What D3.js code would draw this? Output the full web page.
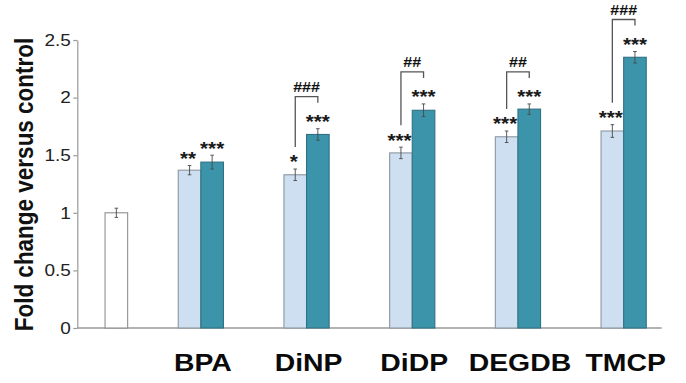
<!DOCTYPE html>
<html>
<head>
<meta charset="utf-8">
<script src="https://cdn.jsdelivr.net/npm/d3@7"></script>
<style>
  html, body { margin: 0; padding: 0; background: #fff; }
  svg { display: block; }
  text { font-family: "Liberation Sans", Arial, sans-serif; }
</style>
</head>
<body>
<svg id="chart" width="686" height="383"></svg>
<script>
// ---- data ----
const compounds = ["BPA", "DiNP", "DiDP", "DEGDB", "TMCP"];
const controlValue = 1.0;
const controlErr = 0.04;
const series1Values = [1.37, 1.33, 1.52, 1.66, 1.71];
const series1Err = [0.04, 0.05, 0.05, 0.05, 0.055];
const series2Values = [1.44, 1.68, 1.89, 1.90, 2.35];
const series2Err = [0.06, 0.05, 0.055, 0.045, 0.05];
const series1Stars = ["**", "*", "***", "***", "***"];
const series2Stars = ["***", "***", "***", "***", "***"];
const pairMarks = ["", "###", "##", "##", "###"];
const yTicks = [0, 0.5, 1, 1.5, 2, 2.5];
const yTitle = "Fold change versus control";

// ---- layout ----
const stretch = 1.15;        // horizontal widening of all text
const barW = 22.6;
const axisX = 77.3;
const controlGap = 84.5;     // control bar sits this far left of the first group

const svg = d3.select("#chart");

const y = d3.scaleLinear().domain([0, 2.5]).range([328, 40]);
const x = d3.scaleBand().domain(compounds).range([148, 676.5]).padding(0);
const sub = d3.scaleBand().domain([0, 1]).range([-barW, barW]).padding(0);
const cx = c => x(c) + x.bandwidth() / 2;
const controlX = cx(compounds[0]) - controlGap;

// rows for the grouped bars
const rows = compounds.map((c, i) => ({
  c,
  bars: [
    { s: 0, v: series1Values[i], e: series1Err[i], stars: series1Stars[i] },
    { s: 1, v: series2Values[i], e: series2Err[i], stars: series2Stars[i] }
  ],
  mark: pairMarks[i]
}));

// ---- y axis ----
const yAxis = d3.axisLeft(y)
  .tickValues(yTicks)
  .tickFormat(d => String(d))
  .tickSize(4)
  .tickSizeOuter(0)
  .tickPadding(1.7);

const gy = svg.append("g").attr("transform", `translate(${axisX},0)`).call(yAxis);
gy.select(".domain").attr("stroke", "#9a9a9a").attr("stroke-width", 1.2);
gy.selectAll(".tick line").attr("stroke", "#9a9a9a").attr("stroke-width", 1.2);
gy.selectAll(".tick text")
  .attr("fill", "#222")
  .style("font-size", "16.5px")
  .style("font-family", "'Liberation Sans', Arial, sans-serif")
  .attr("transform", `scale(${stretch},1)`);

// baseline
svg.append("line")
  .attr("x1", axisX).attr("x2", cx(compounds[compounds.length - 1]) + 38)
  .attr("y1", y(0)).attr("y2", y(0))
  .attr("stroke", "#9a9a9a").attr("stroke-width", 1.4);

// y title
svg.append("text")
  .attr("transform", `translate(24,184.5) scale(${stretch},1) rotate(-90)`)
  .attr("text-anchor", "middle")
  .attr("dy", "0.35em")
  .style("font-size", "22.5px")
  .style("font-weight", "bold")
  .attr("fill", "#111")
  .text(yTitle);

// ---- bars ----
const fills = ["#cddff1", "#3b94aa"];
const strokes = ["#8d979f", "#2f7284"];

// control bar
svg.append("rect")
  .attr("x", controlX - barW / 2)
  .attr("y", y(controlValue))
  .attr("width", barW)
  .attr("height", y(0) - y(controlValue))
  .attr("fill", "#fff")
  .attr("stroke", "#8f8f8f")
  .attr("stroke-width", 1.1);

const groups = svg.append("g").selectAll("g.grp")
  .data(rows).join("g")
  .attr("class", "grp")
  .attr("transform", d => `translate(${cx(d.c)},0)`);

groups.selectAll("rect")
  .data(d => d.bars).join("rect")
  .attr("x", b => sub(b.s))
  .attr("y", b => y(b.v))
  .attr("width", sub.bandwidth())
  .attr("height", b => y(0) - y(b.v))
  .attr("fill", b => fills[b.s])
  .attr("stroke", b => strokes[b.s])
  .attr("stroke-width", 1.1);

// ---- error bars ----
function errorBar(sel, xc, v, e) {
  const g = sel.append("g").attr("stroke", "#4a4a4a").attr("stroke-width", 0.9);
  g.append("line").attr("x1", xc).attr("x2", xc).attr("y1", y(v - e)).attr("y2", y(v + e));
  g.append("line").attr("x1", xc - 1.8).attr("x2", xc + 1.8).attr("y1", y(v + e)).attr("y2", y(v + e));
  g.append("line").attr("x1", xc - 1.8).attr("x2", xc + 1.8).attr("y1", y(v - e)).attr("y2", y(v - e));
}
errorBar(svg, controlX, controlValue, controlErr);
groups.each(function (d) {
  const g = d3.select(this);
  d.bars.forEach(b => errorBar(g, sub(b.s) + sub.bandwidth() / 2, b.v, b.e));
});

// ---- significance stars ----
const starSize = 18;
groups.each(function (d) {
  const g = d3.select(this);
  d.bars.forEach(b => {
    if (!b.stars) return;
    const xc = sub(b.s) + sub.bandwidth() / 2 - (b.s === 0 ? 1.5 : 0);
    const yc = y(b.v + b.e) - 11;
    g.append("text")
      .attr("transform", `translate(${xc},${yc + starSize * 0.58}) scale(${stretch},1)`)
      .attr("text-anchor", "middle")
      .style("font-size", starSize + "px")
      .style("font-weight", "bold")
      .attr("fill", "#1a1a1a")
      .text(b.stars);
  });
});

// ---- pair brackets ----
groups.each(function (d) {
  if (!d.mark) return;
  const g = d3.select(this);
  const [b1, b2] = d.bars;
  const xl = sub(0) + sub.bandwidth() / 2;
  const xr = sub(1) + sub.bandwidth() / 2;
  const top = y(b2.v + b2.e) - 32;
  const leftBottom = y(b1.v + b1.e) - 22;
  const rightBottom = top + 6;
  g.append("path")
    .attr("d", `M${xl},${leftBottom}V${top}H${xr}V${rightBottom}`)
    .attr("fill", "none")
    .attr("stroke", "#555")
    .attr("stroke-width", 1.3);
  g.append("text")
    .attr("transform", `translate(${(xl + xr) / 2},${top - 10 + 5}) scale(${stretch},1)`)
    .attr("text-anchor", "middle")
    .style("font-size", "14px")
    .style("font-weight", "bold")
    .attr("fill", "#111")
    .text(d.mark);
});

// ---- category labels ----
svg.append("g").selectAll("text")
  .data(compounds).join("text")
  .attr("transform", c => `translate(${cx(c) + 2},371) scale(${stretch},1)`)
  .attr("text-anchor", "middle")
  .style("font-size", "24.7px")
  .style("font-weight", "bold")
  .attr("fill", "#0a0a0a")
  .text(c => c);
</script>
</body>
</html>
